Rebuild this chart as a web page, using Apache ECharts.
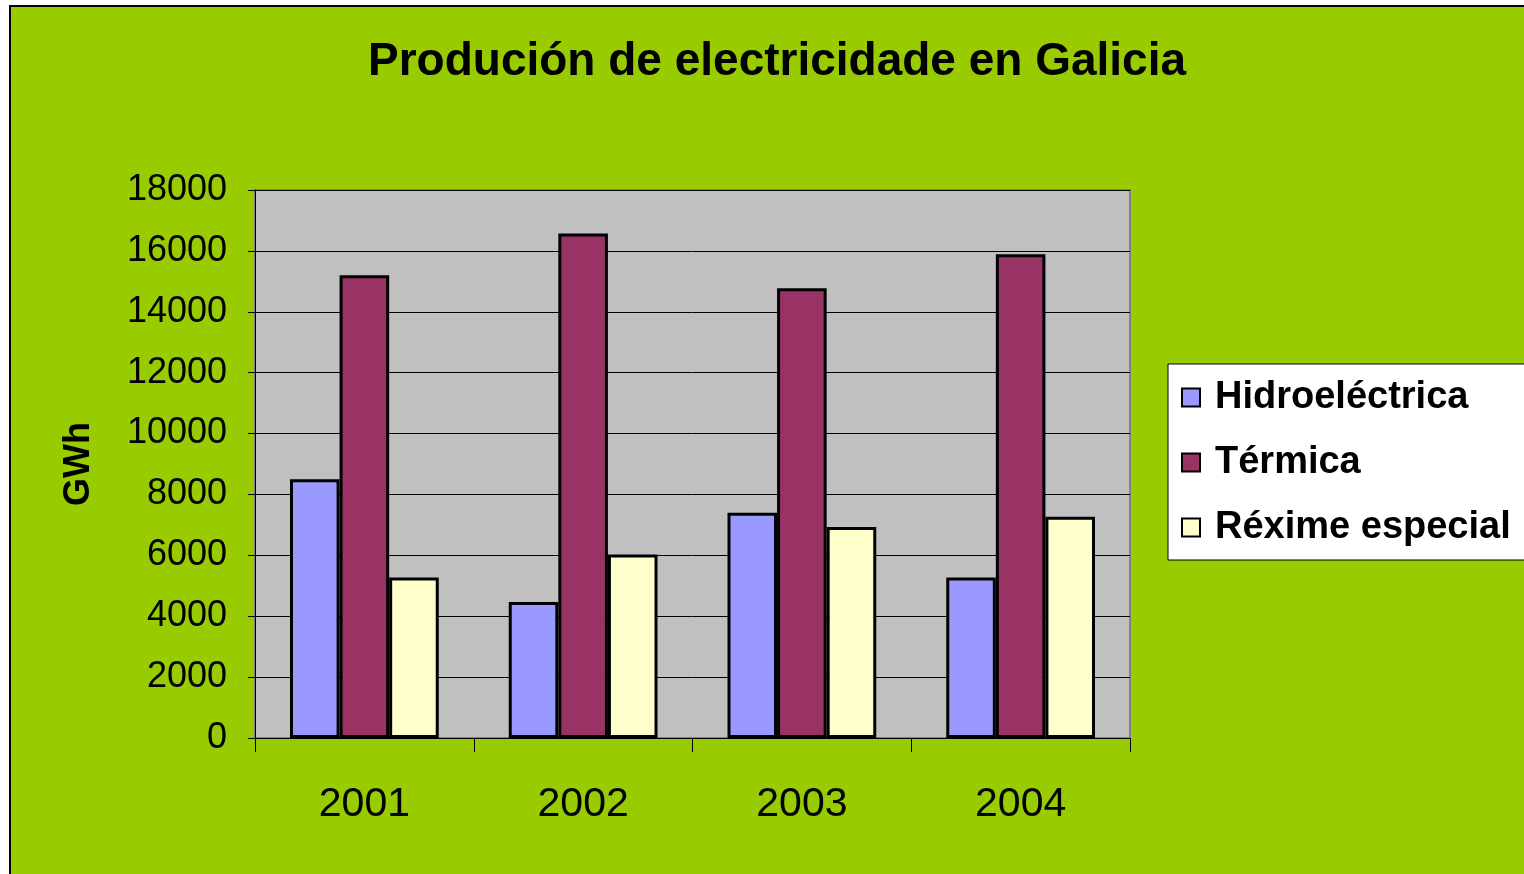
<!DOCTYPE html>
<html>
<head>
<meta charset="utf-8">
<script src="https://cdn.jsdelivr.net/npm/echarts@6/dist/echarts.min.js"></script>
<style>
html,body{margin:0;padding:0;background:#fff;overflow:hidden;}
#bg{position:absolute;left:9px;top:5px;width:1540px;height:900px;background:#99CC00;border-left:2px solid #000;border-top:2px solid #000;}
#chart{position:absolute;left:0;top:0;width:1524px;height:874px;}
</style>
</head>
<body>
<div id="bg"></div>
<div id="chart"></div>
<script>
const categories = ['2001', '2002', '2003', '2004'];
const hidroelectrica = [8500, 4470, 7400, 5270];
const termica = [15200, 16570, 14770, 15890];
const reximeEspecial = [5270, 6030, 6930, 7270];
const yTicks = { min: 0, max: 18000, interval: 2000 };

const chart = echarts.init(document.getElementById('chart'), null, { renderer: 'canvas' });
const barStyle = (c) => ({ color: c, borderColor: '#000', borderWidth: 3 });
chart.setOption({
  backgroundColor: 'transparent',
  animation: false,
  textStyle: { fontFamily: 'Liberation Sans, Arial, sans-serif' },
  title: {
    text: 'Produción de electricidade en Galicia',
    left: 363, top: 34,
    textStyle: { fontSize: 46, fontWeight: 'bold', color: '#000', fontFamily: 'Liberation Sans, Arial, sans-serif' }
  },
  legend: {
    orient: 'vertical',
    left: 1168, top: 364,
    backgroundColor: '#fff',
    borderColor: '#000', borderWidth: 1,
    padding: [13, 60, 12, 13],
    itemWidth: 18, itemHeight: 18,
    itemGap: 24,
    icon: 'rect',
    itemStyle: { borderColor: '#000', borderWidth: 2 },
    textStyle: { fontSize: 38, fontWeight: 'bold', color: '#000', lineHeight: 41, padding: [0, 0, 0, 10], fontFamily: 'Liberation Sans, Arial, sans-serif' },
    data: ['Hidroeléctrica', 'Térmica', 'Réxime especial']
  },
  grid: {
    left: 255, right: 394, top: 190, bottom: 136,
    show: true, backgroundColor: '#C0C0C0', borderColor: '#808080', borderWidth: 2
  },
  xAxis: {
    type: 'category', data: categories,
    axisLine: { lineStyle: { color: '#000', width: 1 } },
    axisTick: { show: true, length: 14, lineStyle: { color: '#000' } },
    axisLabel: { fontSize: 41, color: '#000', margin: 46 }
  },
  yAxis: {
    type: 'value', min: yTicks.min, max: yTicks.max, interval: yTicks.interval,
    name: 'GWh', nameLocation: 'middle', nameGap: 158, nameRotate: 90,
    nameTextStyle: { fontSize: 36, fontWeight: 'bold', color: '#000' },
    axisLine: { show: true, lineStyle: { color: '#000', width: 1 } },
    axisTick: { show: true, length: 7, lineStyle: { color: '#000' } },
    axisLabel: { fontSize: 36, color: '#000', margin: 28, formatter: (v) => String(v) },
    splitLine: { lineStyle: { color: '#000', width: 1 } }
  },
  series: [
    { name: 'Hidroeléctrica', type: 'bar', data: hidroelectrica, barGap: '0%', barCategoryGap: '32%', itemStyle: barStyle('#9999FF') },
    { name: 'Térmica', type: 'bar', data: termica, barGap: '0%', barCategoryGap: '32%', itemStyle: barStyle('#993366') },
    { name: 'Réxime especial', type: 'bar', data: reximeEspecial, barGap: '0%', barCategoryGap: '32%', itemStyle: barStyle('#FFFFCC') }
  ]
});
</script>
</body>
</html>
